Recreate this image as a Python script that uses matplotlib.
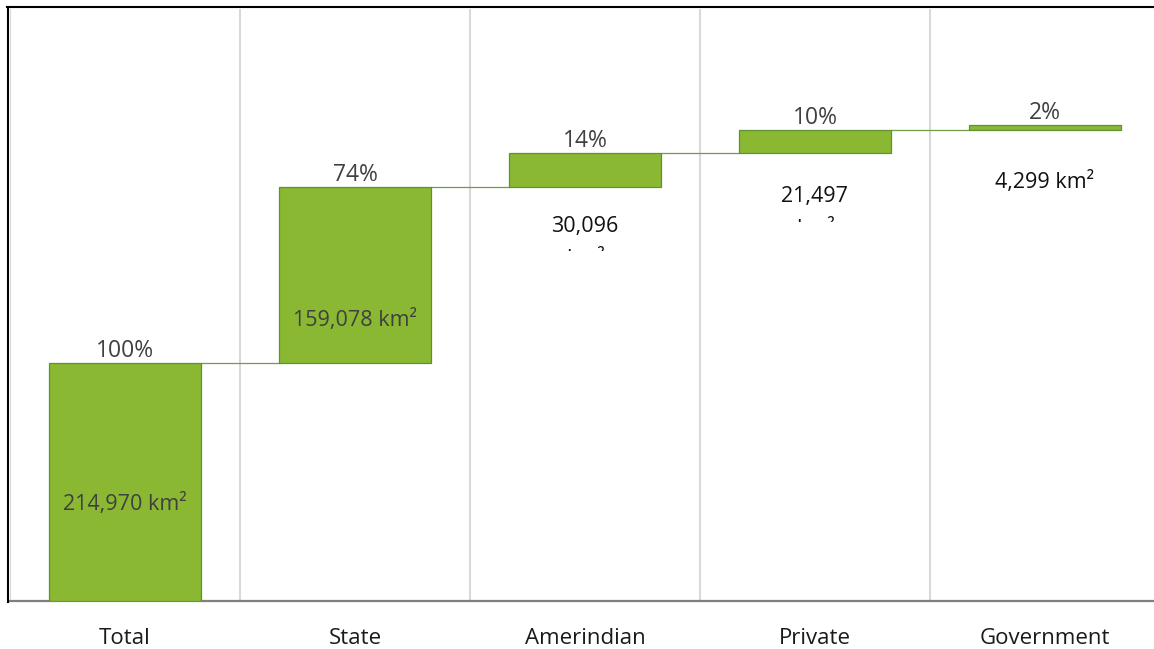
import numpy as np
import matplotlib.pyplot as plt
from matplotlib.lines import Line2D
from matplotlib.transforms import Bbox

# land ownership, km2
categories = ['Total', 'State', 'Amerindian', 'Private', 'Government']
area_km2 = [214970, 159078, 30096, 21497, 4299]

# label placement (pixels below bar top), inside/outside, wrapped onto 2 lines
label_drop_px = [141, 133, 73, 67, 57]
label_inside = [True, True, False, False, False]
label_wrapped = [False, False, True, True, False]

plt.rcParams['font.family'] = ['Open Sans', 'DejaVu Sans']

W, H = 1154, 649
fig = plt.figure(figsize=(W / 100, H / 100), dpi=100)
ax = fig.add_axes([10 / W, 48 / H, 1150 / W, 592 / H])

vals = np.array(area_km2)
bases = np.concatenate([[0], np.cumsum(vals)[:-1]])
tops = bases + vals
x = np.arange(len(categories))
bw = 0.665

ax.set_xlim(-0.5, 4.5)
ax.set_ylim(0, vals[0] * 2.487)

# category separators
for b in np.arange(-0.5, 4.0, 1.0):
    ax.axvline(b, color='#d9d9d9', lw=1.5, zorder=0)

ax.bar(x, vals, bottom=bases, width=bw, color='#8ab833',
       edgecolor='#5f9130', lw=0.9, zorder=3)

# connectors
for i in range(len(x) - 1):
    ax.plot([x[i] + bw / 2, x[i + 1] - bw / 2], [tops[i], tops[i]],
            color='#6f9d45', lw=0.9, zorder=2)

pct = vals / vals[0] * 100
for i in range(len(x)):
    ax.annotate(f'{pct[i]:.0f}%', xy=(x[i], tops[i]), xytext=(0, 0),
                textcoords='offset pixels', ha='center', va='bottom',
                fontsize=16.5, color='#404040', zorder=5)

    col = '#404040' if label_inside[i] else '#111111'
    drop = label_drop_px[i]
    if label_wrapped[i]:
        ax.annotate(f'{vals[i]:,}', xy=(x[i], tops[i]), xytext=(0, -drop),
                    textcoords='offset pixels', ha='center', va='center',
                    fontsize=15.5, color=col, zorder=5)
        # second line is cut off in the original
        t2 = ax.annotate('km²', xy=(x[i], tops[i]), xytext=(0, -drop - 38.5),
                         textcoords='offset pixels', ha='center', va='baseline',
                         fontsize=15.5, color=col, zorder=5)
        yc = ax.transData.transform((x[i], tops[i]))[1] - drop
        t2.set_clip_on(True)
        t2.set_clip_box(Bbox([[0, yc - 25], [W, H]]))
    else:
        ax.annotate(f'{vals[i]:,} km²', xy=(x[i], tops[i]), xytext=(0, -drop),
                    textcoords='offset pixels', ha='center', va='center',
                    fontsize=15.5, color=col, zorder=5)

ax.set_yticks([])
ax.set_xticks(x, categories, fontsize=16, color='#1a1a1a')
ax.tick_params(axis='x', length=0, pad=19.5)
for s in ['top', 'left', 'right']:
    ax.spines[s].set_visible(False)
ax.spines['bottom'].set_color('#7f7f7f')
ax.spines['bottom'].set_linewidth(1.6)

# outer frame (left and top edges only, rest is cropped)
fig.add_artist(Line2D([7.5 / W, 7.5 / W], [1 - 7 / H, 1 - 602 / H],
                      color='black', lw=1.5, transform=fig.transFigure))
fig.add_artist(Line2D([7 / W, 1], [1 - 7 / H, 1 - 7 / H],
                      color='black', lw=1.5, transform=fig.transFigure))

fig.savefig('out.png', dpi=100)
